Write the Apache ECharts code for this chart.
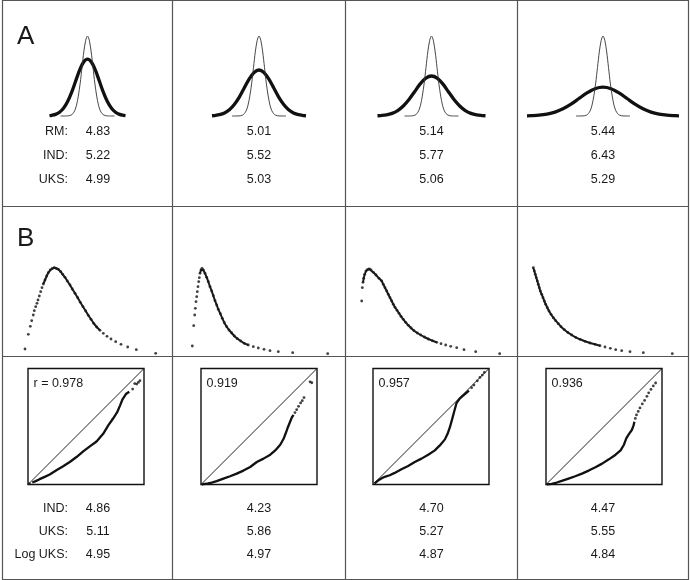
<!DOCTYPE html>
<html><head><meta charset="utf-8">
<script src="https://cdn.jsdelivr.net/npm/echarts@6/dist/echarts.min.js"></script>
<style>html,body{margin:0;padding:0;background:#fff}#c{width:690px;height:580px}</style>
</head><body><div id="c"></div>
<script>
// ---------- DATA ----------
const panelLetters = ['A', 'B'];
const rowLabelsA = ['RM:', 'IND:', 'UKS:'];
const valuesRM_A = ['4.83', '5.01', '5.14', '5.44'];
const valuesIND_A = ['5.22', '5.52', '5.77', '6.43'];
const valuesUKS_A = ['4.99', '5.03', '5.06', '5.29'];
const rowLabelsB = ['IND:', 'UKS:', 'Log UKS:'];
const valuesIND_B = ['4.86', '4.23', '4.70', '4.47'];
const valuesUKS_B = ['5.11', '5.86', '5.27', '5.55'];
const valuesLogUKS_B = ['4.95', '4.97', '4.87', '4.84'];
const qqLabels = ['r = 0.978', '0.919', '0.957', '0.936'];

// Panel A: half normal curves (x offset from mean, height; thin reference peak = 1)
const thinHalfX = [0, 1.8, 3.7, 5.5, 7.3, 9.2, 11, 12.8, 14.7, 16.5, 20, 27];
const thinHalfY = [1, 0.946, 0.801, 0.607, 0.411, 0.249, 0.135, 0.066, 0.029, 0.011, 0.001, 0];
const thick1HalfX = [0, 4, 8, 12, 16, 20, 24, 28, 32, 36, 38];
const thick1HalfY = [0.71, 0.672, 0.569, 0.431, 0.292, 0.177, 0.096, 0.047, 0.020, 0.008, 0.004];
const thick2HalfX = [0, 4.9, 9.9, 14.8, 19.7, 24.7, 29.6, 34.5, 39.5, 44.4, 47];
const thick2HalfY = [0.575, 0.544, 0.461, 0.349, 0.236, 0.143, 0.078, 0.038, 0.016, 0.006, 0.003];
const thick3HalfX = [0, 5.6, 11.3, 16.9, 22.5, 28.2, 33.8, 39.4, 45.1, 50.7, 54];
const thick3HalfY = [0.5, 0.473, 0.401, 0.304, 0.206, 0.125, 0.068, 0.033, 0.014, 0.006, 0.003];
const thick4HalfX = [0, 8, 16, 24, 32, 40, 48, 56, 64, 72, 76];
const thick4HalfY = [0.36, 0.341, 0.288, 0.219, 0.148, 0.090, 0.049, 0.024, 0.010, 0.004, 0.002];

// Panel B: density points [score, density]
const density1 = [[10,8],[13.3,22.7],[15.3,30.7],[16.7,36.3],[18.3,42],[19.3,46.3],[20.7,50.3],[22,53.7],[23,57],[24.3,61],[25.7,65.3],[27,69.3],[28.3,73],[30,77],[31.7,81],[33.3,84.3],[35.3,87],[37.3,88.7],[39.3,89.3],[41.3,88.7],[43.3,87.7],[45.7,85.3],[47.7,82.7],[50,79.7],[52.3,76],[55,72],[57.3,68],[60,63.7],[62.7,59.3],[65.3,54.7],[68,50.3],[70.7,46],[73.3,41.7],[76,37.7],[78.7,33.7],[81.7,30],[85,26.7],[88.3,23.7],[92,20.7],[96,18],[100.7,15.3],[106,12.7],[112.7,10],[121.3,7.3],[140.7,3.7]];
const density2 = [[7.3,11],[8.7,31.3],[9.7,42],[10.3,48.7],[11,55.3],[11.7,60.3],[12.3,65.3],[13,70.3],[13.7,75.3],[14.3,79.3],[15,83.7],[16,87],[17,88.7],[18.3,87],[20,83.7],[21.7,79.7],[23.3,75.3],[25,70.3],[26.7,66],[28.3,61.3],[30,56.3],[31.7,52],[33.3,47.7],[35.3,43.3],[37.3,38.7],[39.3,34.3],[41.7,30.3],[44,27],[46.7,24],[49.3,21],[52.3,18.3],[55.7,16],[59.3,13.7],[63.3,12],[68.3,10.3],[73.3,9],[79,7.7],[85,6.3],[93.3,5.3],[107.7,4.3],[142.7,3.3]];
const density3 = [[6.7,56],[7.3,69.3],[8,74.7],[8.7,78.7],[9.7,82.7],[11,86],[12.7,87.7],[14.3,88],[16,87],[18.3,84.7],[21,82],[24,78.7],[26.7,76],[28.3,72.7],[30,69.3],[31.7,66],[33.3,62.7],[35,59.3],[36.7,56],[38.3,52.7],[40,49.7],[42,46.7],[44,43.7],[46,40.7],[48.3,37.7],[50.7,34.7],[53.3,31.7],[56,29],[59,26.3],[62.3,24],[65.7,22],[69.3,20],[73.3,18],[77.3,16.3],[81.7,14.7],[86,13.3],[90.7,12],[95.7,10.7],[101.7,9.3],[109,7.3],[120.7,5.3],[144.7,3.3]];
const density4 = [[8.3,89.3],[9.3,86],[10.3,82.7],[11.3,79.3],[12.3,76],[13.3,72.7],[14.3,69.3],[15.3,66],[16.7,62.7],[18,59.3],[19.3,56],[20.7,52.7],[22.3,49.3],[24,46],[26,42.7],[28.3,39.3],[30.7,36.3],[33.3,33.3],[36,30.3],[39.3,27.3],[42.7,24.7],[46.7,22],[50.7,19.7],[55,17.7],[60,15.7],[65,14],[70,12.7],[75,11.3],[80,10],[85.3,8.7],[90.7,7.3],[96.7,6.3],[105,5.3],[118.3,4.3],[147.3,3.3]];
// index range of each density's crowded (overlapping-dot) stretch
const densityCrowded = [[12, 36], [10, 33], [2, 34], [0, 27]];

// Panel B: Q-Q points [theoretical quantile, sample quantile], both scaled 0..1
const qq1Dense = [[0.037,0.017],[0.066,0.029],[0.10,0.046],[0.144,0.066],[0.187,0.086],[0.245,0.123],[0.303,0.157],[0.36,0.194],[0.418,0.237],[0.476,0.286],[0.533,0.329],[0.591,0.371],[0.648,0.437],[0.692,0.509],[0.735,0.571],[0.769,0.623],[0.793,0.68],[0.816,0.737],[0.844,0.78],[0.873,0.80]];
const qq1Tail = [[0.012,0.008],[0.902,0.823],[0.92,0.87],[0.937,0.866],[0.951,0.88],[0.965,0.895]];
const qq2Dense = [[0.006,0],[0.035,0.006],[0.063,0.009],[0.092,0.017],[0.135,0.029],[0.193,0.051],[0.251,0.071],[0.308,0.094],[0.366,0.12],[0.424,0.151],[0.481,0.194],[0.539,0.223],[0.597,0.257],[0.64,0.294],[0.683,0.343],[0.712,0.394],[0.732,0.446],[0.749,0.494],[0.769,0.543],[0.784,0.58],[0.798,0.60]];
const qq2Tail = [[0.81,0.62],[0.825,0.645],[0.841,0.674],[0.859,0.703],[0.873,0.723],[0.888,0.749],[0.94,0.885],[0.955,0.877]];
const qq3Dense = [[0.014,0.009],[0.043,0.034],[0.072,0.051],[0.101,0.066],[0.144,0.08],[0.187,0.10],[0.245,0.131],[0.303,0.16],[0.36,0.194],[0.418,0.223],[0.476,0.257],[0.533,0.294],[0.576,0.337],[0.62,0.389],[0.643,0.437],[0.663,0.494],[0.683,0.566],[0.70,0.629],[0.72,0.703],[0.749,0.743],[0.787,0.774],[0.827,0.809]];
const qq3Tail = [[0.85,0.835],[0.87,0.857],[0.899,0.894],[0.922,0.923],[0.942,0.943],[0.96,0.966]];
const qq4Dense = [[0.006,0],[0.049,0.006],[0.093,0.017],[0.136,0.031],[0.194,0.051],[0.252,0.071],[0.31,0.094],[0.368,0.12],[0.426,0.149],[0.484,0.18],[0.542,0.217],[0.60,0.257],[0.643,0.294],[0.672,0.343],[0.693,0.40],[0.716,0.437],[0.74,0.47],[0.755,0.51],[0.762,0.54]];
const qq4Tail = [[0.77,0.57],[0.78,0.60],[0.795,0.63],[0.81,0.66],[0.83,0.695],[0.85,0.725],[0.87,0.76],[0.885,0.79],[0.905,0.82],[0.925,0.85],[0.945,0.875]];

// ---------- LAYOUT ----------
const frameL = 2.5, frameR = 688.5, frameT = 0.5, frameB = 579.5;
const dividersX = [172.5, 345.5, 517.5];
const dividersY = [206.5, 356.5];
const colEdges = [frameL, ...dividersX, frameR];
const colCenters = [0,1,2,3].map(i => (colEdges[i] + colEdges[i+1]) / 2);
const FONT = '"Liberation Sans", Arial, Helvetica, sans-serif';
const INK = '#111';
const LINE = '#555';

const chart = echarts.init(document.getElementById('c'), null, {renderer: 'canvas'});

function mirror(hx, hy) {
  const out = [];
  for (let i = hx.length - 1; i > 0; i--) out.push([-hx[i], hy[i]]);
  for (let i = 0; i < hx.length; i++) out.push([hx[i], hy[i]]);
  return out;
}
const thickHalves = [[thick1HalfX, thick1HalfY],[thick2HalfX, thick2HalfY],[thick3HalfX, thick3HalfY],[thick4HalfX, thick4HalfY]];
const densities = [density1, density2, density3, density4];
const qqDense = [qq1Dense, qq2Dense, qq3Dense, qq4Dense];
const qqTail = [qq1Tail, qq2Tail, qq3Tail, qq4Tail];

const grids = [], xAxes = [], yAxes = [], series = [];
function addGrid(g, xr, yr) {
  const idx = grids.length;
  grids.push(g);
  xAxes.push({type: 'value', gridIndex: idx, min: xr[0], max: xr[1], show: false});
  yAxes.push({type: 'value', gridIndex: idx, min: yr[0], max: yr[1], show: false});
  return idx;
}

// Panel A grids
const aBaseline = 116, aPeakH = 80, aHalfW = 82;
for (let c = 0; c < 4; c++) {
  const gi = addGrid({left: colCenters[c] - aHalfW, top: aBaseline - aPeakH, width: aHalfW * 2, height: aPeakH}, [-aHalfW, aHalfW], [0, 1]);
  series.push({type: 'line', xAxisIndex: gi, yAxisIndex: gi, data: mirror(thickHalves[c][0], thickHalves[c][1]),
    smooth: 0.3, showSymbol: false, lineStyle: {color: INK, width: 3.3, cap: 'butt'}, clip: false, silent: true, z: 2});
  series.push({type: 'line', xAxisIndex: gi, yAxisIndex: gi, data: mirror(thinHalfX, thinHalfY),
    smooth: 0.3, showSymbol: false, lineStyle: {color: '#333', width: 0.9}, clip: false, silent: true, z: 3});
}

// Panel B densities
const dLefts = [15, 185, 355, 525];
for (let c = 0; c < 4; c++) {
  const gi = addGrid({left: dLefts[c], top: 257, width: 150, height: 100}, [0, 150], [0, 100]);
  const r = densityCrowded[c];
  series.push({type: 'line', xAxisIndex: gi, yAxisIndex: gi, data: densities[c].slice(r[0], r[1] + 1),
    showSymbol: false, lineStyle: {color: '#1a1a1a', width: 2}, clip: false, silent: true});
  series.push({type: 'scatter', xAxisIndex: gi, yAxisIndex: gi, data: densities[c], symbol: 'circle',
    symbolSize: 2.8, itemStyle: {color: INK}, clip: false, silent: true});
}

// Panel B Q-Q boxes
const qLefts = [28, 201, 373, 546];
for (let c = 0; c < 4; c++) {
  const gi = addGrid({left: qLefts[c], top: 368.5, width: 116, height: 116, show: true, borderColor: INK, borderWidth: 1.4, backgroundColor: 'transparent'}, [0, 1], [0, 1]);
  series.push({type: 'line', xAxisIndex: gi, yAxisIndex: gi, data: [[0, 0], [1, 1]], showSymbol: false,
    lineStyle: {color: '#222', width: 1}, silent: true});
  series.push({type: 'line', xAxisIndex: gi, yAxisIndex: gi, data: qqDense[c], showSymbol: false,
    lineStyle: {color: INK, width: 2.3}, silent: true});
  series.push({type: 'scatter', xAxisIndex: gi, yAxisIndex: gi, data: qqTail[c], symbol: 'circle',
    symbolSize: 2.8, itemStyle: {color: INK}, silent: true});
}

// Frame and text graphics
const graphics = [];
graphics.push({type: 'rect', shape: {x: frameL, y: frameT, width: frameR - frameL, height: frameB - frameT},
  style: {fill: 'none', stroke: LINE, lineWidth: 1.2}, silent: true});
dividersX.forEach(x => graphics.push({type: 'line', shape: {x1: x, y1: frameT, x2: x, y2: frameB}, style: {stroke: LINE, lineWidth: 1.2}, silent: true}));
dividersY.forEach(y => graphics.push({type: 'line', shape: {x1: frameL, y1: y, x2: frameR, y2: y}, style: {stroke: LINE, lineWidth: 1.2}, silent: true}));

function txt(s, x, y, align, size) {
  graphics.push({type: 'text', x: x, y: y, silent: true,
    style: {text: s, textAlign: align, textVerticalAlign: 'middle', font: (size || 12.5) + 'px ' + FONT, fill: '#1a1a1a'}});
}
txt(panelLetters[0], 17, 37, 'left', 26);
txt(panelLetters[1], 17, 239, 'left', 26);

const labelRight = 68, firstColValueX = 98;
const aRowsY = [132, 156, 180];
const aValues = [valuesRM_A, valuesIND_A, valuesUKS_A];
rowLabelsA.forEach((l, r) => txt(l, labelRight, aRowsY[r], 'right'));
aValues.forEach((vals, r) => vals.forEach((v, c) => txt(v, c === 0 ? firstColValueX : colCenters[c], aRowsY[r], 'center')));

const bRowsY = [509, 532, 555];
const bValues = [valuesIND_B, valuesUKS_B, valuesLogUKS_B];
rowLabelsB.forEach((l, r) => txt(l, labelRight, bRowsY[r], 'right'));
bValues.forEach((vals, r) => vals.forEach((v, c) => txt(v, c === 0 ? firstColValueX : colCenters[c], bRowsY[r], 'center')));

qqLabels.forEach((l, c) => txt(l, qLefts[c] + 5.5, 384, 'left'));

chart.setOption({
  animation: false,
  backgroundColor: '#fff',
  grid: grids, xAxis: xAxes, yAxis: yAxes, series: series,
  graphic: {elements: graphics}
});
</script></body></html>
